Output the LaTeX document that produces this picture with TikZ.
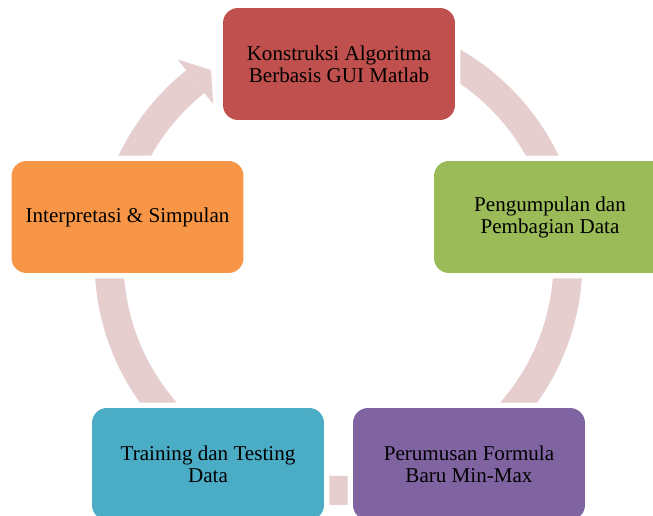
\documentclass[tikz,border=0pt]{standalone}
\usepackage{fontspec}
\setmainfont{Liberation Serif}
\usetikzlibrary{calc}
\definecolor{merah}{HTML}{C0504D}
\definecolor{hijau}{HTML}{9BBB59}
\definecolor{oranye}{HTML}{F79646}
\definecolor{biru}{HTML}{4BACC6}
\definecolor{ungu}{HTML}{8064A2}
\definecolor{cincin}{RGB}{230,206,207}
\begin{document}
\begin{tikzpicture}[x=0.02cm, y=0.02cm,
    tahap/.style={rounded corners=0.3cm, minimum width=4.64cm, minimum height=2.24cm,
      align=center, inner sep=0pt, font=\fontsize{12}{12.5}\selectfont,
      preaction={draw=white, line width=0.22cm}},
    panah/.style={draw=cincin, line width=0.58cm}]
			% Area
			\useasboundingbox (0,0) rectangle (653,515);
			\clip (0,0) rectangle (653,515);

			% Ring
			\coordinate (pusat) at (338.5,254);
			\draw[panah] ($(pusat)+(90:229.5)$) arc[start angle=90, end angle=-231.4, radius=4.59cm];

			% Arrow head
			\fill[cincin] ($(pusat)+(128.6:258)$) -- (211,445) -- ($(pusat)+(128.6:201)$) -- cycle;

			% Steps
			\node[tahap, fill=merah] (konstruksi) at (339,451) {Konstruksi Algoritma\\Berbasis GUI Matlab};
			\node[tahap, fill=hijau] (kumpul) at (550,298) {Pengumpulan dan\\Pembagian Data};
			\node[tahap, fill=ungu] (rumus) at (469,51) {Perumusan Formula\\Baru Min-Max};
			\node[tahap, fill=biru] (latih) at (208,51) {Training dan Testing\\Data};
			\node[tahap, fill=oranye] (simpul) at (127.5,298) {Interpretasi \& Simpulan};
		\end{tikzpicture}
\end{document}
